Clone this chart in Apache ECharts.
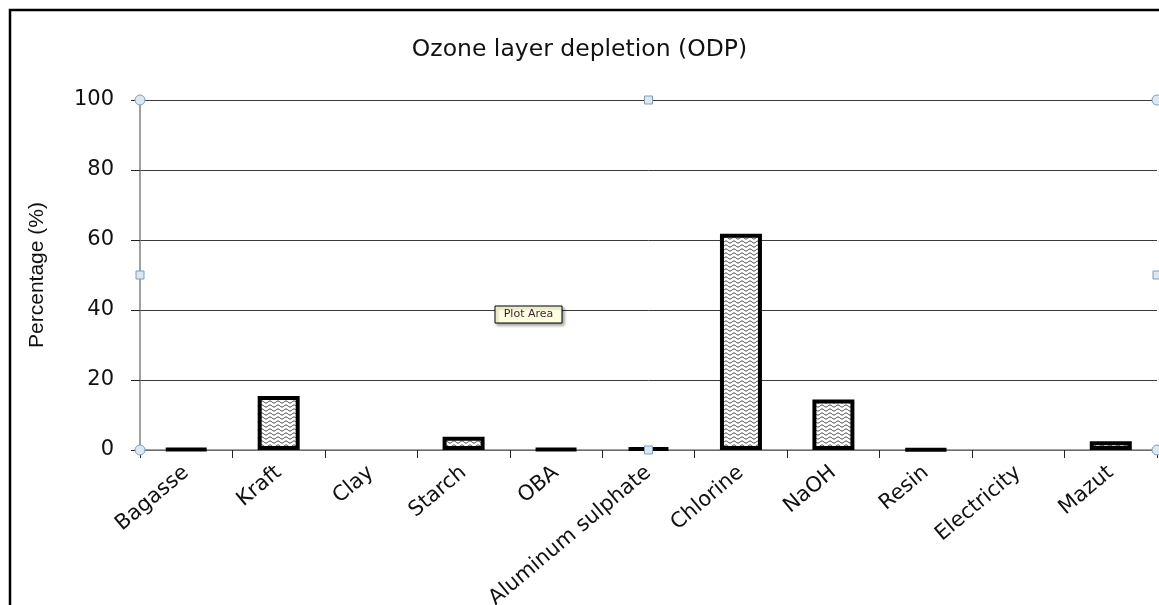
<!DOCTYPE html>
<html>
<head>
<meta charset="utf-8">
<script src="https://cdn.jsdelivr.net/npm/echarts@6/dist/echarts.min.js"></script>
<style>
  html, body { margin: 0; padding: 0; background: #fff; }
  #chart { width: 1159px; height: 605px; }
</style>
</head>
<body>
<div id="chart"></div>
<script>
// Ozone layer depletion share per input (%)
const categories = ['Bagasse', 'Kraft', 'Clay', 'Starch', 'OBA', 'Aluminum sulphate',
  'Chlorine', 'NaOH', 'Resin', 'Electricity', 'Mazut'];
const odpValues = [0.3, 15.4, 0, 3.8, 0.3, 0.6, 61.8, 14.4, 0.2, 0, 2.5];
const yTicks = { min: 0, max: 100, interval: 20 };

// Wavy-line fill pattern for the bars
function wavePattern() {
  const w = 8;
  const c = document.createElement('canvas');
  c.width = w; c.height = 4;
  const g = c.getContext('2d');
  g.fillStyle = '#ffffff';
  g.fillRect(0, 0, w, 4);
  g.strokeStyle = '#2a2a2a';
  g.lineWidth = 1;
  g.beginPath();
  for (let x = 0; x <= w; x += 0.25) {
    const y = 2 + 1.0 * Math.sin((x / w) * Math.PI * 2);
    if (x === 0) g.moveTo(x, y); else g.lineTo(x, y);
  }
  g.stroke();
  return c;
}

const pattern = wavePattern();
// zero values get no outline so they leave no mark
const barData = odpValues.map(v => ({
  value: v,
  itemStyle: v === 0 ? { borderWidth: 0 } : undefined
}));

const chart = echarts.init(document.getElementById('chart'), null, { renderer: 'canvas' });

const L = 140, T = 100, R = 1157, B = 450;
const handleStyle = { fill: '#dbe8f0', stroke: '#7f9db9', lineWidth: 1 };
const FONT = 'DejaVu Sans, Liberation Sans, Arial, sans-serif';

chart.setOption({
  animation: false,
  backgroundColor: '#ffffff',
  title: {
    text: 'Ozone layer depletion (ODP)',
    left: 'center',
    top: 33,
    textStyle: { fontFamily: FONT, fontSize: 23.5, fontWeight: 'normal', color: '#111' }
  },
  grid: {
    left: L, top: T, right: 1159 - R, bottom: 605 - B,
    containLabel: false, outerBoundsMode: 'none'
  },
  xAxis: {
    type: 'category',
    data: categories,
    axisLine: { lineStyle: { color: '#808080', width: 1.5 } },
    axisTick: { show: true, alignWithLabel: false, length: 8, lineStyle: { color: '#222' } },
    axisLabel: {
      rotate: 40, margin: 20, interval: 0,
      fontFamily: FONT, fontSize: 21, color: '#111'
    }
  },
  yAxis: {
    type: 'value',
    min: yTicks.min, max: yTicks.max, interval: yTicks.interval,
    name: 'Percentage (%)',
    nameLocation: 'middle',
    nameGap: 92,
    nameRotate: 90,
    nameTextStyle: { fontFamily: 'Liberation Sans Narrow, Arial Narrow, Liberation Sans, sans-serif', fontSize: 21, color: '#111' },
    axisLine: { show: true, lineStyle: { color: '#808080', width: 1.5 } },
    axisTick: { show: true, length: 9, lineStyle: { color: '#222' } },
    axisLabel: { margin: 26, fontFamily: FONT, fontSize: 21, color: '#111' },
    splitLine: { lineStyle: { color: '#3a3a3a', width: 1 } }
  },
  series: [{
    type: 'bar',
    data: barData,
    barWidth: 42,
    itemStyle: {
      color: { image: pattern, repeat: 'repeat' },
      borderColor: '#000',
      borderWidth: 4
    }
  }],
  graphic: [
    // outer chart frame
    { type: 'rect', silent: true, shape: { x: 10, y: 10, width: 1300, height: 800 },
      style: { fill: 'none', stroke: '#000', lineWidth: 2.5 }, z: 100 },
    // selection handles on the plot area
    { type: 'circle', shape: { cx: L, cy: T, r: 5 }, style: handleStyle, z: 101 },
    { type: 'circle', shape: { cx: R, cy: T, r: 5 }, style: handleStyle, z: 101 },
    { type: 'circle', shape: { cx: L, cy: B, r: 5 }, style: handleStyle, z: 101 },
    { type: 'circle', shape: { cx: R, cy: B, r: 5 }, style: handleStyle, z: 101 },
    { type: 'rect', shape: { x: (L + R) / 2 - 4, y: T - 4, width: 8, height: 8 }, style: handleStyle, z: 101 },
    { type: 'rect', shape: { x: (L + R) / 2 - 4, y: B - 4, width: 8, height: 8 }, style: handleStyle, z: 101 },
    { type: 'rect', shape: { x: L - 4, y: (T + B) / 2 - 4, width: 8, height: 8 }, style: handleStyle, z: 101 },
    { type: 'rect', shape: { x: R - 4, y: (T + B) / 2 - 4, width: 8, height: 8 }, style: handleStyle, z: 101 },
    // hover tip
    { type: 'rect', shape: { x: 495, y: 306, width: 67, height: 17 },
      style: { fill: '#ffffe1', stroke: '#000', lineWidth: 1, shadowBlur: 3, shadowColor: 'rgba(0,0,0,0.35)', shadowOffsetX: 2, shadowOffsetY: 2 }, z: 102 },
    { type: 'text', x: 528.5, y: 314.5,
      style: { text: 'Plot Area', fontFamily: 'DejaVu Sans, sans-serif', fontSize: 11, fill: '#3a1f2a', align: 'center', verticalAlign: 'middle' }, z: 103 }
  ]
});
</script>
</body>
</html>
